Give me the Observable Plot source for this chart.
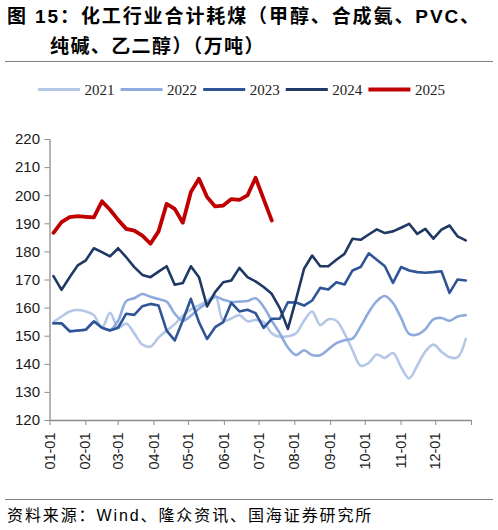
<!DOCTYPE html>
<html><head><meta charset="utf-8">
<script src="https://cdn.jsdelivr.net/npm/d3@7"></script>
<script src="https://cdn.jsdelivr.net/npm/@observablehq/plot@0.6"></script>
<style>
html,body{margin:0;padding:0;background:#fff;}
#wrap{position:relative;width:498px;height:530px;overflow:hidden;background:#fff;font-family:"Liberation Sans",Arial,"Noto Sans CJK SC",sans-serif;color:#000;}
.title{position:absolute;left:7px;font-size:19px;font-weight:700;letter-spacing:1.9px;white-space:nowrap;line-height:1;font-family:"Liberation Sans",Arial,"Noto Sans CJK SC",sans-serif;}
.rule{position:absolute;left:5px;width:488px;height:0;border-top:1.5px solid #808080;}
#legend{position:absolute;top:80px;left:0;}
#chart{position:absolute;top:110px;left:0;}
.src{position:absolute;left:7px;top:508px;font-size:16px;letter-spacing:1.9px;white-space:nowrap;line-height:1;font-family:"Liberation Sans",Arial,"Noto Sans CJK SC",sans-serif;}
</style></head>
<body><div id="wrap">
<div class="title" style="top:7px">图 15：化工行业合计耗煤（甲醇、合成氨、PVC、</div>
<div class="title" style="top:37px;left:50px;letter-spacing:1.4px">纯碱、乙二醇）（万吨）</div>
<div class="rule" style="top:61px"></div>
<div id="legend"></div>
<div id="chart"></div>
<div class="rule" style="top:499px"></div>
<div class="src">资料来源：Wind、隆众资讯、国海证券研究所</div>
</div>
<script>
// ---- data ----
const years = ["2021", "2022", "2023", "2024", "2025"];
const yTicks = [120, 130, 140, 150, 160, 170, 180, 190, 200, 210, 220];
const monthTickLabels = ["01-01","02-01","03-01","04-01","05-01","06-01","07-01","08-01","09-01","10-01","11-01","12-01"];
const firstWeek = "2021-01-04"; // weekly observations, reference year for the month-day axis

const s2021 = [155.0,157.0,158.8,159.3,158.8,157.5,153.0,158.3,153.0,154.5,151.0,147.0,146.3,149.5,152.0,154.3,157.3,159.5,161.0,162.5,164.5,155.5,156.3,157.5,155.3,155.8,155.0,151.0,149.8,150.0,151.0,155.5,158.8,154.0,156.0,155.5,151.0,145.0,139.5,140.5,143.5,142.3,144.0,139.0,135.0,139.5,144.5,147.0,144.5,142.5,142.5,149.0];
const s2022 = [154.5,154.4,152.0,152.0,152.4,155.0,153.1,152.2,155.5,162.5,163.5,165.0,164.0,163.2,162.3,158.0,155.5,157.3,159.8,161.8,164.0,163.0,162.2,162.3,162.5,163.5,160.5,155.5,151.0,146.0,143.3,145.0,143.3,143.2,145.3,147.5,148.6,149.2,153.5,158.5,162.5,164.3,161.8,156.5,150.8,150.6,152.5,156.0,156.5,155.5,157.0,157.5];
const s2023 = [154.6,154.6,151.7,152.0,152.3,155.3,153.0,152.0,153.0,158.0,157.6,160.7,161.5,160.9,152.0,148.5,155.6,163.3,155.0,149.0,153.2,155.0,161.9,158.8,159.4,158.2,153.0,156.2,156.2,162.1,162.0,160.9,162.7,167.2,166.6,169.2,168.4,173.4,174.6,179.5,177.2,174.9,169.0,174.6,173.4,172.8,172.6,172.8,173.1,165.4,170.2,169.8];
const s2024 = [171.4,166.5,171.0,175.2,177.0,181.3,179.9,178.4,181.3,178.1,174.6,171.8,171.0,173.0,174.9,168.3,168.9,174.9,171.0,160.6,165.7,169.2,169.8,174.3,171.0,169.5,167.5,165.1,160.0,152.6,163.0,174.0,178.7,174.9,174.9,177.2,179.3,184.7,184.3,186.2,188.0,186.7,187.3,188.6,190.0,186.4,188.2,184.7,187.9,189.4,185.5,184.1];
const s2025 = [186.8,190.6,192.4,192.7,192.5,192.3,198.0,195.0,191.4,188.2,187.6,185.8,182.9,187.3,197.1,195.3,190.4,201.3,206.0,199.5,196.2,196.5,198.8,198.5,200.1,206.4,198.8,191.2];

// ---- styling ----
const colors = ["#b4c7e7", "#8faadc", "#2f5597", "#1f3864", "#c00000"];
const widths = [2.6, 2.6, 2.6, 2.6, 3.8];
const curves = ["catmull-rom", "catmull-rom", "linear", "linear", "linear"];
const seriesList = [s2021, s2022, s2023, s2024, s2025];

// ---- build rows ----
const parseDate = d3.utcParse("%Y-%m-%d");
const w0 = parseDate(firstWeek);
const toRows = (arr) => arr.map((v, i) => ({date: d3.utcDay.offset(w0, 7 * i), v}));
const allRows = seriesList.map(toRows);

const xStart = new Date(Date.UTC(2021, 0, 1));
const xEnd = new Date(Date.UTC(2022, 0, 1));
const xTicks = monthTickLabels.map(s => parseDate("2021-" + s)).concat([xEnd]);
const fmt = d3.utcFormat("%m-%d");

const axisColor = "#8c8c8c";
const chart = Plot.plot({
  width: 498,
  height: 390,
  marginTop: 29,
  marginBottom: 80,
  marginLeft: 49.5,
  marginRight: 27,
  x: {type: "utc", domain: [xStart, xEnd]},
  y: {domain: [120, 220]},
  style: {fontFamily: "Liberation Sans, Arial, sans-serif", fontSize: "15px", color: "#1a1a1a", background: "white", overflow: "visible"},
  marks: [
    Plot.axisY({ticks: yTicks, tickSize: 5, tickPadding: 5, stroke: axisColor, fill: "#1a1a1a", fontSize: 15, label: null}),
    Plot.axisX({ticks: xTicks, tickFormat: d => (+d === +xEnd ? "" : fmt(d)), tickRotate: -90, tickSize: 5, tickPadding: 7, stroke: axisColor, fill: "#1a1a1a", fontSize: 14.5, label: null}),
    Plot.ruleX([xStart], {stroke: axisColor, strokeWidth: 1.3}),
    Plot.ruleY([120], {stroke: axisColor, strokeWidth: 1.3}),
    ...allRows.map((rows, k) => Plot.line(rows, {x: "date", y: "v", stroke: colors[k], strokeWidth: widths[k], curve: curves[k], strokeLinejoin: "round", strokeLinecap: "round"}))
  ]
});
document.getElementById("chart").appendChild(chart);

// ---- legend ----
const lg = d3.select("#legend").append("svg").attr("width", 498).attr("height", 20);
years.forEach((y, k) => {
  const x0 = 38 + 82.6 * k;
  lg.append("line").attr("x1", x0).attr("x2", x0 + 42).attr("y1", 9.5).attr("y2", 9.5)
    .attr("stroke", colors[k]).attr("stroke-width", k === 4 ? 4 : 3);
  lg.append("text").attr("x", x0 + 46.5).attr("y", 14.8).text(y)
    .attr("font-family", "Liberation Serif, Times New Roman, serif").attr("font-size", 15).attr("fill", "#222");
});
</script>
</body></html>
